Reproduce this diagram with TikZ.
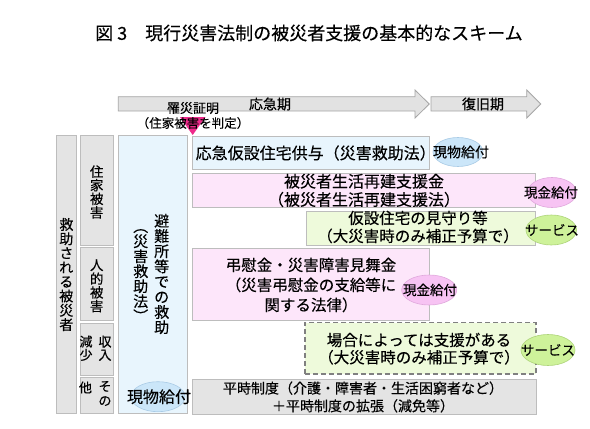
\documentclass[tikz,border=0pt]{standalone}
\usepackage{fontspec}
\setmainfont[FakeBold=0.25]{Noto Sans CJK JP}
\usetikzlibrary{shapes.geometric,fit}
\definecolor{grayfill}{HTML}{E4E4E4}
\definecolor{grayline}{HTML}{BDBDBD}
\definecolor{bluefill}{HTML}{E8F5FD}
\definecolor{pinkfill}{HTML}{FDE6FA}
\definecolor{greenfill}{HTML}{EEFADB}
\definecolor{ellblue}{HTML}{CBE6F9}
\definecolor{ellbluel}{HTML}{A9CBE6}
\definecolor{ellpink}{HTML}{F7C3F3}
\definecolor{ellpinkl}{HTML}{E0A8DC}
\definecolor{ellgreen}{HTML}{CEF29A}
\definecolor{ellgreenl}{HTML}{AED47A}
\definecolor{arrowfill}{HTML}{E2E2E2}
\definecolor{arrowline}{HTML}{A6A6A6}
\definecolor{dashline}{HTML}{808080}
\definecolor{tri}{HTML}{EE2A8B}
\newcommand\myfs[2]{\fontsize{#1}{#2}\selectfont\lineskiplimit=-30pt\relax}
\tikzset{
  boxbase/.style={draw=grayline, line width=0.9pt, inner sep=0pt},
  graybox/.style={boxbase, fill=grayfill},
  bluebox/.style={boxbase, fill=bluefill},
  pinkbox/.style={boxbase, fill=pinkfill},
  greenbox/.style={boxbase, fill=greenfill},
  dashbox/.style={draw=dashline, fill=greenfill, line width=1.4pt, dash pattern=on 5pt off 3pt, inner sep=0pt},
  ellbase/.style={ellipse, inner sep=0pt, line width=0.6pt},
  ellblue/.style={ellbase, draw=ellbluel, fill=ellblue},
  ellpink/.style={ellbase, draw=ellpinkl, fill=ellpink},
  ellgreen/.style={ellbase, draw=ellgreenl, fill=ellgreen},
  arrowshape/.style={draw=arrowline, fill=arrowfill, line width=0.8pt},
  txt/.style={inner sep=0pt, align=center},
}
\begin{document}
\begin{tikzpicture}[x=1pt,y=-1pt]
\useasboundingbox (0,0) rectangle (590,429);
\fill[white] (0,0) rectangle (590,429);

% title
\node[txt, anchor=west, font=\myfs{18}{21}] (title) at (95,33) {図 3　現行災害法制の被災者支援の基本的なスキーム};

% phase arrows
\draw[arrowshape] (118.3,96.7) -- (415,96.7) -- (415,90) -- (429.3,104) -- (415,118) -- (415,111) -- (118.3,111) -- cycle;
\draw[arrowshape] (431,96.7) -- (526.7,96.7) -- (526.7,90) -- (540.7,104) -- (526.7,118) -- (526.7,111) -- (431,111) -- cycle;
\node[txt, font=\myfs{14}{16}] (phase1) at (270,104) {応急期};
\node[txt, font=\myfs{14}{16}] (phase2) at (483,104) {復旧期};

% marker triangle
\fill[tri] (180,117) -- (205.5,117) -- (192.7,135) -- cycle;
\node[txt, font=\myfs{13}{15}] (cert) at (193,108) {罹災証明};
\node[txt, font=\myfs{12.5}{15}] (certsub) at (193,123) {（住家被害を判定）};

% left columns
\node[graybox, fit={(56.7,135) (76,413.3)}] (rescued) {};
\node[graybox, fit={(80,135) (113.3,245)}] (house) {};
\node[graybox, fit={(80,247.7) (113.3,320)}] (human) {};
\node[graybox, fit={(80,323.3) (113.3,375)}] (income) {};
\node[graybox, fit={(80,377.3) (113.3,413.3)}] (other) {};
\node[bluebox, fit={(118.3,135) (187.7,413.3)}] (shelter) {};

% right boxes
\node[bluebox, fit={(192.7,136) (429.3,169.3)}] (tempb) {};
\node[pinkbox, fit={(192.7,173.3) (535,207.3)}] (supportb) {};
\node[greenbox, fit={(306,211.7) (535,245)}] (watchb) {};
\node[pinkbox, fit={(192.7,248.3) (429.3,320)}] (condb) {};
\node[dashbox, fit={(305,322.7) (536,374)}] (caseb) {};
\node[graybox, fit={(192.7,379.3) (536,414)}] (normalb) {};

% ellipses
\node[ellblue, minimum width=50, minimum height=29] (e1) at (458,152) {};
\node[ellpink, minimum width=49, minimum height=30] (e2) at (552,192.5) {};
\node[ellgreen, minimum width=50.6, minimum height=30] (e3) at (551.3,230) {};
\node[ellpink, minimum width=55, minimum height=30] (e4) at (429.2,290) {};
\node[ellgreen, minimum width=54, minimum height=31] (e5) at (548,350) {};
\node[ellblue, minimum width=54, minimum height=30] (e6) at (158,396.7) {};

% vertical texts
\node[txt, font=\myfs{14}{14.3}] (trescued) at (66.3,274.5) {救\\助\\さ\\れ\\る\\被\\災\\者};
\node[txt, font=\myfs{13.5}{13.6}] (thouse) at (96.7,192) {住\\家\\被\\害};
\node[txt, font=\myfs{13.5}{13.7}] (thuman) at (96.7,285.8) {人\\的\\被\\害};
\node[txt, font=\myfs{13}{13.3}] (tinc1) at (105,348.3) {収\\入};
\node[txt, font=\myfs{13}{13.3}] (tinc2) at (86,348.3) {減\\少};
\node[txt, font=\myfs{13}{14.5}] (toth1) at (105,393.5) {そ\\の};
\node[txt, font=\myfs{13}{14.5}] (toth2) at (85.5,387.5) {他};
\node[txt, font=\myfs{15}{15.2}] (tshel1) at (161.7,274) {避\\難\\所\\等\\で\\の\\救\\助};
\node[txt, font=\myfs{15}{15}] (tshel2) at (140.7,275.5) {︵\\災\\害\\救\\助\\法\\︶};

% box texts
\node[txt, anchor=west, font=\myfs{16}{18}] (ttemp) at (195.5,153) {応急仮設住宅供与（災害救助法）};
\node[txt, font=\myfs{16}{18.3}] (tsupport) at (364,190.5) {被災者生活再建支援金\\（被災者生活再建支援法）};
\node[txt, font=\myfs{15.5}{18}] (twatch) at (418,227) {仮設住宅の見守り等\\（大災害時のみ補正予算で）};
\node[txt, font=\myfs{15.5}{20}] (tcond) at (311,285) {弔慰金・災害障害見舞金\\（災害弔慰金の支給等に\\関する法律）};
\node[txt, font=\myfs{15.5}{17.3}] (tcase) at (419,348.7) {場合によっては支援がある\\（大災害時のみ補正予算で）};
\node[txt, font=\myfs{14}{17.7}] (tnormal) at (363,397) {平時制度（介護・障害者・生活困窮者など）\\＋平時制度の拡張（減免等）};

% ellipse texts
\node[txt, font=\myfs{14}{16}] (te1) at (461,152) {現物給付};
\node[txt, font=\myfs{13.5}{16}] (te2) at (551,192.5) {現金給付};
\node[txt, font=\myfs{13.5}{16}] (te3) at (552,230) {サービス};
\node[txt, font=\myfs{13.5}{16}] (te4) at (430,290) {現金給付};
\node[txt, font=\myfs{13.5}{16}] (te5) at (548,350) {サービス};
\node[txt, font=\myfs{16}{18}] (te6) at (159,396.7) {現物給付};
\end{tikzpicture}
\end{document}
